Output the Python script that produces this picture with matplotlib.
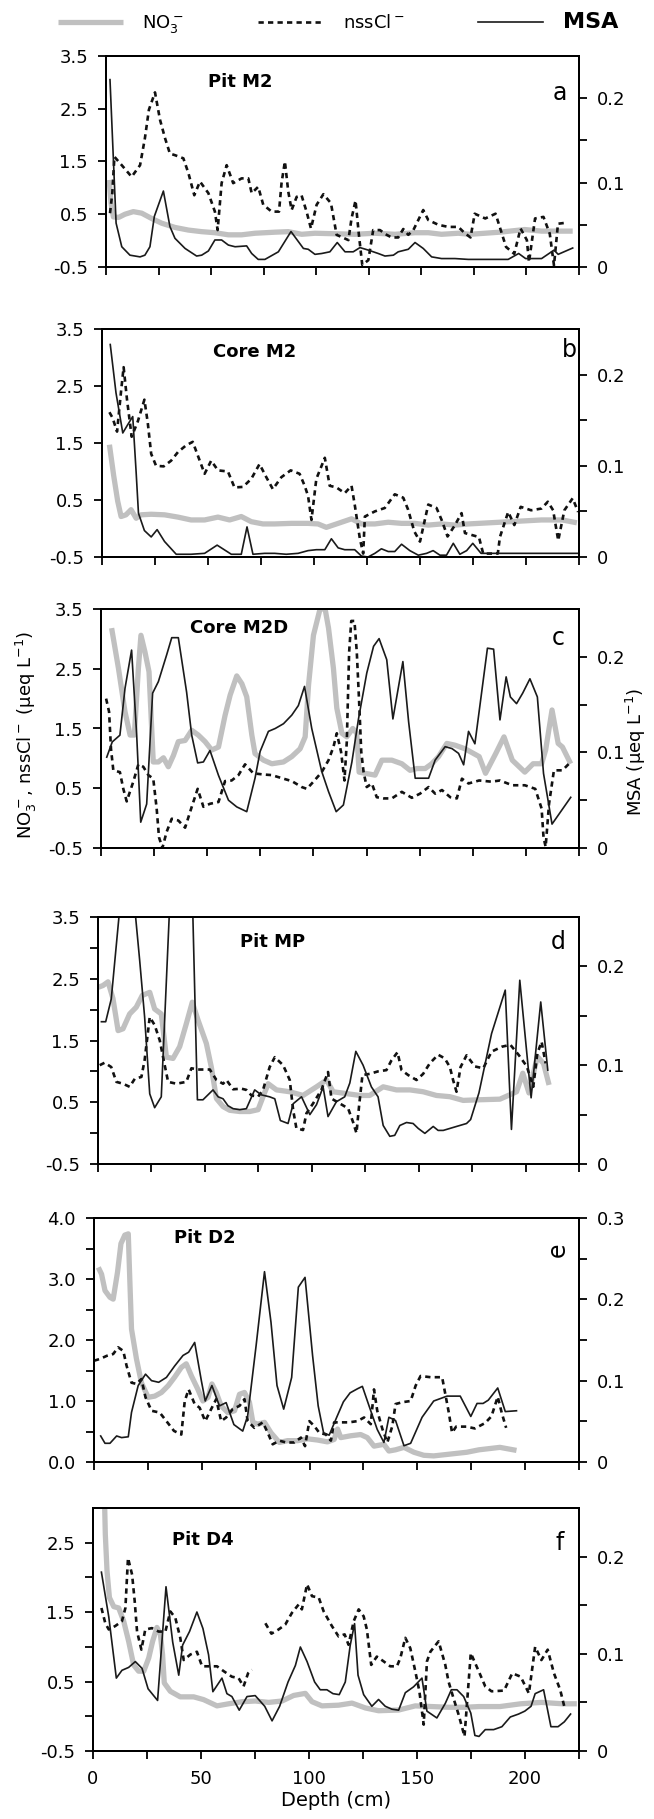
import numpy as np
import matplotlib
matplotlib.use('Agg')
import matplotlib.pyplot as plt

plt.rcParams['font.family'] = ['DejaVu Sans']
plt.rcParams['font.size'] = 13

# ---- panel a : Pit M2 ----
a_no3_d = [1.5, 2.4, 3.5, 6, 9, 13, 17, 21.7, 26.5, 32.8, 39.2, 45.5, 51.8, 58.2, 64.5, 70.9, 80.4, 86.7,
           93.1, 99.4, 108.9, 118.4, 128, 137.5, 147, 153.3, 159.6, 167.6, 173.1, 187.3, 199.2, 207.2, 222]
a_no3 = [1.15, 0.71, 0.45, 0.44, 0.50, 0.55, 0.52, 0.42, 0.33, 0.25, 0.20, 0.17, 0.15, 0.11, 0.11, 0.14, 0.16, 0.17,
         0.12, 0.14, 0.13, 0.12, 0.14, 0.12, 0.15, 0.15, 0.12, 0.14, 0.12, 0.16, 0.21, 0.18, 0.18]
a_cl_d = [1.9, 3, 4, 7.5, 12.2, 16.2, 18.5, 20.4, 23.3, 25.7, 28.1, 30.4, 32.8, 36.8, 39.2, 42, 44.7, 48.7, 51.8,
          53.1, 55, 57.4, 60.5, 64.5, 67.7, 69.3, 72.4, 74.8, 78.8, 82.3, 83.5, 85.1, 86.7, 88.3, 90.7, 93, 95.4,
          97.5, 100.2, 103.4, 107, 109.7, 115.3, 116.8, 118.7, 120.3, 121.9, 124.8, 127.1, 130.3, 133.5, 135.9,
          139, 141.4, 143.8, 146.2, 150.9, 153.3, 158.1, 162.8, 167.6, 170.7, 173.4, 175.4, 180.4, 185.3, 187.3,
          190.3, 194.2, 197.2, 200.2, 201.2, 204.1, 208.1, 211.1, 213.1, 215, 219]
a_cl = [0.52, 0.90, 1.59, 1.43, 1.21, 1.43, 1.94, 2.48, 2.81, 2.29, 1.94, 1.65, 1.62, 1.56, 1.28, 0.86, 1.12, 0.90,
        0.55, 0.20, 1.09, 1.43, 1.09, 1.18, 1.18, 0.90, 1.02, 0.68, 0.55, 0.55, 1.09, 1.50, 0.93, 0.58, 0.83, 0.86,
        0.55, 0.23, 0.68, 0.88, 0.71, 0.11, 0.01, 0.42, 0.76, 0.11, -0.46, -0.37, 0.20, 0.20, 0.11, 0.06, 0.06,
        0.22, 0.11, 0.20, 0.58, 0.39, 0.30, 0.26, 0.26, 0.14, 0.06, 0.51, 0.42, 0.51, 0.26, -0.12, -0.25, 0.23,
        0.01, -0.41, 0.42, 0.45, 0.13, -0.47, 0.32, 0.34]
a_msa_d = [1.9, 4.8, 7.5, 11.4, 16.2, 18.5, 20.9, 23, 27.3, 30.4, 32.8, 37.6, 43.1, 45.5, 48.7, 51.8, 55, 58.2,
           61.4, 66.9, 69.3, 72.4, 75.6, 82, 88, 93.9, 96.2, 99.4, 102.6, 106.5, 110, 113.7, 117.6, 120.8, 124.8,
           129.5, 132.7, 136.7, 139, 143.8, 147, 150.9, 154.9, 159.6, 166, 172.3, 191.3, 196.3, 199.6, 207.2,
           213.1, 215.1, 222]
a_msa = [0.222, 0.052, 0.024, 0.014, 0.012, 0.014, 0.024, 0.060, 0.090, 0.048, 0.034, 0.022, 0.013, 0.014, 0.019,
         0.032, 0.032, 0.026, 0.024, 0.025, 0.016, 0.009, 0.009, 0.018, 0.042, 0.022, 0.021, 0.015, 0.016, 0.018,
         0.029, 0.018, 0.018, 0.023, 0.020, 0.016, 0.013, 0.014, 0.018, 0.021, 0.029, 0.022, 0.012, 0.010, 0.010,
         0.009, 0.009, 0.016, 0.010, 0.010, 0.020, 0.015, 0.0225]

# ---- panel b : Core M2 ----
b_no3_d = [3.5, 5.5, 7.4, 9, 11.3, 13.7, 16.1, 18.4, 23.2, 29.5, 35.8, 42, 48.4, 54.7, 60.2, 65.7, 70.4, 75.9,
           81.4, 89.3, 97.2, 101.9, 105.8, 111.4, 117.7, 122.4, 128.7, 135, 141.3, 147.6, 153.9, 160.2, 166.5,
           172.8, 197.5, 207.3, 217.1, 224]
b_no3 = [1.47, 0.93, 0.48, 0.21, 0.24, 0.33, 0.18, 0.24, 0.25, 0.24, 0.20, 0.15, 0.15, 0.20, 0.15, 0.21, 0.12, 0.08,
         0.08, 0.09, 0.09, 0.08, 0.02, 0.09, 0.17, 0.08, 0.08, 0.11, 0.09, 0.09, 0.06, 0.08, 0.06, 0.08, 0.13, 0.15,
         0.15, 0.10]
b_cl_d = [3.5, 5, 7.1, 9, 10.2, 11.8, 14, 16.9, 20, 21.6, 23.2, 25.5, 29.1, 32.6, 35.8, 39.7, 42.8, 45.2, 48.4,
          51.5, 54.7, 59.4, 62.5, 66.5, 70.4, 74.3, 77.5, 80.6, 84.6, 89, 93.2, 95.6, 97.2, 98.8, 101.1, 105.1,
          107.4, 110.6, 114.5, 117.7, 119.2, 121.6, 123.2, 124, 128.7, 133.4, 138.1, 142.1, 144.4, 147.3, 150,
          153.9, 157.8, 160.2, 163, 166.5, 169.6, 171.2, 177.8, 179.8, 186.7, 187.7, 191.6, 194.5, 197.5, 202.4,
          207.3, 210.3, 212.8, 215.2, 218.1, 222, 224.6]
b_cl = [2.04, 1.94, 1.70, 2.41, 2.83, 2.26, 1.61, 1.88, 2.26, 1.85, 1.31, 1.10, 1.09, 1.19, 1.34, 1.46, 1.52, 1.28,
        0.96, 1.19, 1.02, 1.00, 0.72, 0.73, 0.87, 1.13, 0.90, 0.69, 0.90, 1.02, 0.96, 0.75, 0.57, 0.15, 0.87, 1.24,
        0.75, 0.72, 0.62, 0.75, 0.42, -0.17, -0.44, 0.21, 0.30, 0.36, 0.60, 0.54, 0.33, -0.05, -0.23, 0.42, 0.36,
        0.15, -0.14, 0.06, 0.27, -0.08, -0.15, -0.44, -0.44, -0.15, 0.29, 0.06, 0.38, 0.32, 0.35, 0.47, 0.32,
        -0.21, 0.32, 0.53, 0.29]
b_msa_d = [3.9, 6.6, 9.8, 12.1, 14.5, 16.1, 17.2, 20, 23.2, 26, 29.5, 35, 42, 48.4, 54.3, 61, 65.7, 68.4, 71.2,
           76.7, 81.4, 86.9, 92.5, 97.2, 101.1, 105.1, 108.2, 111.4, 114.5, 119.2, 122.4, 125.5, 128.7, 131.8,
           135, 138.1, 141.3, 145.2, 149.2, 153.1, 156.2, 159.4, 162.5, 165.7, 168.8, 172, 174.9, 178.8, 187.7,
           207.3, 225]
b_msa = [0.233, 0.180, 0.136, 0.145, 0.154, 0.093, 0.048, 0.029, 0.022, 0.030, 0.017, 0.003, 0.003, 0.004, 0.013,
         0.003, 0.003, 0.033, 0.003, 0.004, 0.004, 0.003, 0.004, 0.007, 0.008, 0.008, 0.020, 0.010, 0.008, 0.008,
         0.001, 0.0, 0.004, 0.009, 0.006, 0.006, 0.014, 0.007, 0.002, 0.004, 0.007, 0.002, 0.002, 0.015, 0.003,
         0.007, 0.015, 0.004, 0.004, 0.004, 0.004]

# ---- panel c : Core M2D ----
c_no3_d = [5, 8.2, 11.3, 13.7, 15.7, 17.6, 18.8, 20.7, 22.6, 24.6, 27, 29.4, 31.7, 34.1, 36.4, 39.6, 42.7, 45.8,
           49, 52.1, 55.3, 58.4, 60.8, 63.9, 66.3, 68.6, 71, 72.5, 76.5, 80.4, 85.9, 89.8, 93.7, 96.1, 97.7, 100,
           103.1, 105.5, 107.1, 109.4, 111, 113.4, 115.7, 118.5, 120.4, 121.5, 124.3, 129, 132.2, 136.9, 141.6,
           145.5, 148.7, 152.6, 155.7, 158.9, 162.8, 166.7, 171.4, 178, 181, 185.8, 189.7, 193.6, 199.5, 203.4,
           207.4, 209.3, 212.3, 215.2, 217.2, 221.1]
c_no3 = [3.18, 2.51, 1.78, 1.39, 1.39, 2.51, 3.06, 2.78, 2.45, 0.94, 0.94, 1.01, 0.86, 1.05, 1.28, 1.30, 1.47, 1.39,
         1.28, 1.14, 1.19, 1.72, 2.06, 2.38, 2.25, 2.03, 1.39, 1.08, 0.97, 0.91, 0.94, 1.03, 1.16, 1.36, 2.23, 3.06,
         3.5, 3.5, 3.18, 2.51, 1.84, 1.42, 1.36, 1.50, 1.42, 0.77, 0.75, 0.72, 0.97, 0.97, 0.91, 0.80, 0.83, 0.83,
         0.91, 1.03, 1.25, 1.22, 1.16, 1.03, 0.75, 1.08, 1.36, 0.97, 0.77, 0.91, 0.91, 1.14, 1.81, 1.25, 1.19, 0.91]
c_cl_d = [2.4, 3.8, 4.7, 5.8, 8.9, 10.5, 12.1, 15.2, 17.6, 19.9, 22.3, 24.6, 26.2, 27.3, 28.9, 30.9, 33.3, 36.4,
          39.6, 41.9, 45.5, 48.2, 51.3, 55.3, 58.4, 61.5, 64.7, 67.8, 71.7, 76.5, 80.4, 85.9, 89.8, 94.5, 96.9, 100,
          103.9, 107.1, 109.4, 111, 113, 114.6, 115.7, 116.8, 117.8, 119.3, 120.4, 121.5, 122.5, 123.6, 125.1,
          127.5, 129.8, 133, 136.9, 141.6, 146.3, 150.2, 154.2, 157.3, 160.5, 164.4, 167.5, 169.9, 173, 178,
          183.8, 187.8, 193.6, 199.5, 204.4, 207.4, 208.3, 209.3, 210.9, 213.2, 217.2, 221.1]
c_cl = [2.0, 1.78, 1.16, 0.80, 0.77, 0.49, 0.28, 0.61, 0.90, 0.86, 0.72, 0.66, 0.16, -0.32, -0.5, -0.23, -0.01, -0.04,
        -0.16, 0.10, 0.49, 0.19, 0.24, 0.27, 0.62, 0.63, 0.72, 0.90, 0.75, 0.73, 0.72, 0.66, 0.62, 0.52, 0.49, 0.61,
        0.77, 0.97, 1.19, 1.42, 1.11, 0.63, 1.28, 2.78, 3.3, 3.3, 2.78, 1.95, 1.11, 0.77, 0.52, 0.58, 0.35, 0.33,
        0.33, 0.44, 0.34, 0.41, 0.52, 0.41, 0.47, 0.35, 0.33, 0.66, 0.58, 0.63, 0.61, 0.63, 0.55, 0.55, 0.49, 0.16,
        -0.32, -0.48, 0.24, 0.80, 0.80, 0.94]
c_msa_d = [2.7, 5.3, 8.9, 11.3, 14.4, 16.8, 18.7, 21.5, 24.3, 27, 30.9, 33.3, 36.4, 40.3, 42.7, 45.5, 48.2, 51.3,
           55.3, 60, 63.9, 68.6, 72.5, 74.9, 78.8, 82, 85.9, 89.8, 92.9, 95.8, 99.2, 103.9, 107.1, 110.7, 114.1,
           118.1, 121.2, 125.1, 128.3, 130.9, 134.5, 137.4, 142.1, 144.8, 147.9, 154.2, 157.3, 162, 165.2, 168.3,
           170.7, 173, 176, 181.9, 184.8, 187.8, 190.7, 192.7, 195.6, 198.5, 201.9, 205.4, 208.3, 212.3, 221.1]
c_msa = [0.095, 0.111, 0.118, 0.167, 0.207, 0.118, 0.027, 0.046, 0.162, 0.174, 0.202, 0.220, 0.220, 0.163, 0.118,
         0.089, 0.090, 0.102, 0.076, 0.050, 0.043, 0.038, 0.073, 0.101, 0.122, 0.125, 0.130, 0.139, 0.149, 0.169,
         0.125, 0.080, 0.059, 0.038, 0.045, 0.090, 0.135, 0.183, 0.211, 0.219, 0.197, 0.135, 0.195, 0.132, 0.073,
         0.073, 0.092, 0.106, 0.104, 0.099, 0.087, 0.122, 0.109, 0.209, 0.208, 0.134, 0.179, 0.158, 0.151, 0.162,
         0.177, 0.158, 0.078, 0.025, 0.053]

# ---- panel d : Pit MP ----
d_no3_d = [0, 2.3, 4.7, 7, 9.4, 11.7, 14.8, 17.9, 20.7, 24.2, 26.5, 29.6, 32, 35.1, 38.2, 41.3, 44.1, 46.8, 50.7,
           53, 55.4, 58.5, 61.6, 66.3, 71, 74.9, 77.2, 79.6, 83.5, 89.7, 95.9, 102.2, 106.9, 110, 116.2, 122.5,
           127.1, 133.4, 139.6, 145.9, 152.1, 158.3, 164.6, 170.8, 178.2, 188, 195.8, 198.7, 201.6, 205.5, 208.4, 211]
d_no3 = [2.36, 2.39, 2.45, 2.18, 1.66, 1.69, 1.93, 2.04, 2.23, 2.28, 2.01, 1.93, 1.23, 1.21, 1.40, 1.77, 2.12, 1.83,
         1.45, 1.07, 0.56, 0.43, 0.37, 0.35, 0.35, 0.38, 0.59, 0.80, 0.70, 0.67, 0.61, 0.75, 0.86, 0.67, 0.64, 0.61,
         0.61, 0.75, 0.70, 0.70, 0.67, 0.61, 0.59, 0.53, 0.54, 0.55, 0.67, 0.97, 0.65, 1.24, 1.13, 0.78]
d_cl_d = [0.8, 3.1, 6.2, 8.6, 11.7, 14.8, 17.2, 20.3, 21.8, 24.2, 26.5, 28.9, 31.2, 32.8, 36.7, 41.3, 43.7, 46.8,
          52.3, 55.4, 58.5, 60.1, 63.2, 67.1, 69.4, 71.8, 74.9, 77.2, 80.3, 82.7, 86.6, 89.7, 91.3, 92.8, 95.9,
          97.5, 100.6, 104.5, 107.6, 109.2, 113.1, 117, 119.3, 120.9, 122.1, 123.7, 127.1, 131, 134.9, 137.3,
          140.1, 142, 145.1, 149, 152.1, 155.2, 159.1, 162.2, 164.6, 166.1, 167.7, 169.6, 172.4, 176.3, 180.2,
          184.1, 189, 192.9, 196.7, 200.6, 203.6, 205.5, 207.5, 209.4]
d_cl = [1.10, 1.14, 1.07, 0.83, 0.80, 0.75, 0.88, 0.91, 1.18, 1.88, 1.75, 1.50, 1.10, 0.83, 0.80, 0.83, 1.05, 1.03,
        1.03, 0.86, 0.80, 0.86, 0.71, 0.72, 0.70, 0.61, 0.59, 0.70, 1.07, 1.23, 1.10, 0.86, 0.37, 0.08, 0.05, 0.32,
        0.48, 0.70, 0.99, 0.56, 0.48, 0.40, 0.18, 0.0, 0.43, 0.94, 0.96, 1.00, 1.02, 1.18, 1.31, 1.02, 0.94, 0.86,
        0.96, 1.13, 1.27, 1.21, 1.07, 0.86, 0.67, 1.07, 1.26, 1.08, 1.05, 1.32, 1.40, 1.43, 1.27, 1.08, 0.75, 1.29,
        1.48, 1.13]
d_msa_d = [1.6, 3.6, 6.2, 13.7, 19.5, 21.8, 24.2, 26.5, 29.6, 40.4, 46.5, 49.1, 53.8, 56.2, 58.5, 60.8, 63.2, 66.3,
           69.4, 73.3, 76.4, 80.3, 82.7, 85.3, 88.9, 91.3, 95.2, 99.1, 102.2, 105.3, 107.6, 111.5, 115.4, 117.8,
           120.6, 124, 127.9, 131, 133.4, 136.5, 138.8, 141.2, 144.3, 147.4, 149.8, 152.9, 156.8, 159.1, 161.5,
           164.6, 167.7, 172.4, 174.3, 178.2, 184.1, 190.5, 193.4, 197.3, 202.6, 207.1, 210.4]
d_msa = [0.144, 0.144, 0.167, 0.34, 0.206, 0.149, 0.071, 0.057, 0.068, 0.60, 0.065, 0.065, 0.075, 0.068, 0.066,
         0.059, 0.056, 0.055, 0.056, 0.075, 0.070, 0.068, 0.066, 0.044, 0.041, 0.061, 0.068, 0.050, 0.060, 0.078,
         0.048, 0.063, 0.068, 0.082, 0.114, 0.100, 0.078, 0.068, 0.039, 0.028, 0.029, 0.039, 0.042, 0.041, 0.036,
         0.031, 0.038, 0.034, 0.034, 0.036, 0.038, 0.041, 0.045, 0.072, 0.132, 0.176, 0.035, 0.186, 0.067, 0.164,
         0.095]

# ---- panel e : Pit D2 ----
e_no3_d = [2, 3.5, 5.1, 7.4, 8.9, 10.9, 12.5, 14.3, 15.9, 16.6, 17.4, 19.7, 22, 25.1, 28.2, 31.3, 34.4, 37.4, 40.5,
           42.8, 45.2, 48.2, 50.5, 52.9, 54.7, 56.7, 59, 62.1, 65.2, 67.5, 69.8, 72.1, 73.7, 76, 79.1, 82.1, 86,
           89.8, 94.5, 99.1, 103.7, 108.3, 111.4, 113, 114.5, 119.1, 123.7, 126.8, 129.9, 134.5, 136.8, 139.9,
           143.8, 148.4, 153, 157.6, 165.3, 173, 178.6, 188.3, 196]
e_no3 = [3.19, 3.08, 2.81, 2.70, 2.67, 3.11, 3.58, 3.72, 3.74, 3.0, 2.18, 1.69, 1.30, 1.06, 1.08, 1.14, 1.25, 1.39,
         1.55, 1.61, 1.41, 1.19, 1.0, 1.06, 1.28, 1.14, 0.92, 0.81, 0.84, 1.11, 1.14, 0.98, 0.65, 0.62, 0.65, 0.48,
         0.32, 0.35, 0.35, 0.38, 0.36, 0.33, 0.37, 0.54, 0.40, 0.43, 0.45, 0.40, 0.26, 0.29, 0.18, 0.20, 0.24, 0.16,
         0.11, 0.10, 0.13, 0.16, 0.20, 0.24, 0.19]
e_cl_d = [0, 2.8, 5.9, 8.9, 11.2, 13.6, 15.1, 17.4, 19.7, 22, 23.9, 26.7, 30.5, 33.6, 37.1, 40.5, 42.1, 43.9, 46.7,
          49, 51.6, 54.4, 56.7, 59, 61.3, 64.4, 67.5, 69.8, 71.3, 74.4, 78.3, 80.6, 82.9, 86, 89.1, 92.9, 96, 97.9,
          99.9, 102.2, 104.5, 107.6, 109.9, 111.4, 114.5, 118.3, 122.2, 125.3, 128.4, 129.9, 131.4, 133.8, 136.1,
          138.4, 139.9, 143, 146.9, 149.2, 151.5, 156.1, 161.5, 163, 164.6, 166.1, 168, 172.8, 176.7, 181.5, 184.4,
          187.3, 189.2, 191.2]
e_cl = [1.66, 1.69, 1.74, 1.77, 1.88, 1.82, 1.58, 1.30, 1.28, 1.36, 1.06, 0.84, 0.81, 0.67, 0.51, 0.45, 1.0, 1.19,
        0.95, 0.89, 0.67, 0.87, 1.03, 0.67, 0.73, 0.87, 0.92, 1.03, 0.67, 0.56, 0.65, 0.48, 0.29, 0.35, 0.32, 0.32,
        0.40, 0.26, 0.67, 0.59, 0.48, 0.45, 0.35, 0.65, 0.65, 0.65, 0.67, 0.73, 0.62, 1.19, 0.84, 0.54, 0.32, 0.59,
        0.95, 0.98, 1.0, 1.25, 1.41, 1.39, 1.39, 1.11, 0.81, 0.48, 0.58, 0.58, 0.55, 0.64, 0.75, 1.07, 0.80, 0.56]
e_msa_d = [3.1, 5.1, 7.4, 10.5, 12.8, 15.9, 17.4, 20.5, 23.9, 26.7, 30, 33.6, 37.4, 41.3, 43.9, 46.7, 49.8, 51.6,
           54.7, 58.2, 61.3, 64.9, 69, 71.3, 75.2, 79.1, 82.1, 84.9, 88, 91.7, 94.8, 97.9, 101.4, 104, 106.5, 109.1,
           112.6, 115.7, 118.8, 122.2, 124.5, 127.6, 131.4, 134.5, 136.8, 139.9, 143.8, 146.9, 152.2, 157.6, 163.8,
           169.9, 174.8, 177.7, 180.5, 182.9, 187.3, 190.8, 196]
e_msa = [0.032, 0.023, 0.023, 0.032, 0.030, 0.031, 0.061, 0.094, 0.108, 0.100, 0.098, 0.104, 0.118, 0.131, 0.135,
         0.147, 0.100, 0.075, 0.094, 0.069, 0.073, 0.046, 0.038, 0.057, 0.143, 0.234, 0.172, 0.094, 0.065, 0.104,
         0.215, 0.227, 0.131, 0.069, 0.036, 0.033, 0.055, 0.074, 0.085, 0.090, 0.093, 0.069, 0.040, 0.024, 0.055,
         0.051, 0.020, 0.023, 0.055, 0.075, 0.081, 0.081, 0.056, 0.072, 0.072, 0.076, 0.091, 0.062, 0.063]

# ---- panel f : Pit D4 ----
f_no3_d = [5.2, 5.7, 6.5, 7.6, 9.6, 11.9, 14.2, 16.5, 18.8, 21.1, 23.5, 25.8, 27.6, 29.6, 31.2, 32.2, 33, 35.8,
           40.4, 46.6, 51.2, 57.4, 62.8, 69, 75.1, 81.3, 87.5, 92.9, 98.3, 101.4, 106, 113.7, 119.9, 126.1, 132.2,
           141.5, 149.2, 156.9, 164.6, 172.4, 178.7, 188.4, 198, 207.6, 217.3, 224]
f_no3 = [3.3, 2.62, 2.09, 1.71, 1.58, 1.56, 1.37, 1.08, 0.74, 0.65, 0.65, 0.84, 1.08, 1.28, 1.18, 0.89, 0.48, 0.36,
         0.28, 0.28, 0.24, 0.15, 0.18, 0.21, 0.22, 0.20, 0.22, 0.30, 0.33, 0.21, 0.15, 0.16, 0.19, 0.12, 0.08, 0.09,
         0.15, 0.14, 0.13, 0.13, 0.14, 0.14, 0.18, 0.20, 0.18, 0.18]
f_cl_d = [3.9, 5.7, 7.3, 10.3, 13.4, 15, 16.2, 18.1, 19.3, 20.4, 22.4, 24.2, 27.3, 30.4, 33.5, 35.8, 38.1, 40.4, 42,
          45.1, 48.1, 50.5, 53.5, 57.4, 60.5, 64.3, 67.4, 69.7, 71.8, 73.6, 76.5, 79.8, 82.6, 85.9, 89, 92.1, 95.2,
          96.7, 99.1, 101.4, 104.5, 106.8, 110.6, 113.7, 116.5, 118.3, 120.7, 123, 125.3, 126.8, 128.8, 131.4,
          134.6, 137.6, 140.7, 142.3, 144.6, 146.9, 149.2, 151.1, 153.1, 154.6, 156.2, 160, 163.1, 164.6, 166.9,
          169.3, 172, 174.9, 178.7, 181.6, 184.5, 190.3, 194.1, 198, 201.8, 204.7, 207.6, 210.5, 213.4, 216.3, 218.2]
f_cl = [1.56, 1.34, 1.25, 1.30, 1.37, 1.56, 2.28, 2.04, 1.66, 1.22, 0.96, 1.25, 1.27, 1.22, 1.22, 1.51, 1.42, 1.13,
        0.81, 0.89, 0.93, 0.72, 0.72, 0.72, 0.65, 0.57, 0.55, 0.43, 0.62, 0.67, np.nan, 1.34, 1.19, 1.25, 1.32,
        1.49, 1.61, 1.54, 1.90, 1.73, 1.71, 1.51, 1.30, 1.15, 1.18, 1.03, 1.37, 1.54, 1.44, 1.25, 0.74, 0.86, 0.79,
        0.72, 0.72, 0.84, 1.13, 0.98, 0.65, 0.36, -0.12, 0.79, 0.93, 1.08, 0.74, 0.50, 0.26, 0.02, -0.29, 0.91,
        0.64, 0.43, 0.36, 0.37, 0.62, 0.57, 0.33, 1.0, 0.81, 0.96, 0.62, 0.38, 0.14]
f_msa_d = [3.9, 7.3, 10.8, 13.4, 16.5, 19.6, 22.7, 25.5, 29.9, 33.8, 36.9, 39.7, 41.5, 44.7, 48.1, 50.9, 53.5,
           55.5, 59.7, 62, 64.3, 67.7, 71.3, 75.1, 79.5, 82.9, 86.4, 90.3, 93.7, 96, 99.1, 102.6, 105.2, 108.3,
           111.1, 114, 116.8, 119.1, 121.1, 122.7, 125.3, 129.1, 132.2, 135.3, 138.4, 141.5, 144.6, 148.4, 152.3,
           154.6, 159.2, 163.1, 165.9, 168.5, 171.6, 174.9, 176.8, 178.7, 181.6, 185.5, 189.3, 193.2, 197, 199.9,
           202.8, 204.7, 208.6, 212, 215.3, 218.2, 221.1]
f_msa = [0.184, 0.138, 0.075, 0.083, 0.086, 0.092, 0.085, 0.064, 0.052, 0.169, 0.112, 0.078, 0.109, 0.123, 0.143,
         0.126, 0.099, 0.061, 0.075, 0.059, 0.056, 0.042, 0.056, 0.057, 0.046, 0.031, 0.046, 0.071, 0.088, 0.107,
         0.092, 0.071, 0.063, 0.063, 0.059, 0.058, 0.071, 0.109, 0.131, 0.078, 0.058, 0.046, 0.053, 0.046, 0.043,
         0.042, 0.060, 0.066, 0.075, 0.041, 0.034, 0.049, 0.063, 0.063, 0.056, 0.039, 0.016, 0.015, 0.022, 0.022,
         0.025, 0.035, 0.038, 0.041, 0.046, 0.059, 0.063, 0.025, 0.025, 0.030, 0.038]

names = ['Pit M2', 'Core M2', 'Core M2D', 'Pit MP', 'Pit D2', 'Pit D4']
letters = ['a', 'b', 'c', 'd', 'e', 'f']

panels = [
    (a_no3_d, a_no3, a_cl_d, a_cl, a_msa_d, a_msa),
    (b_no3_d, b_no3, b_cl_d, b_cl, b_msa_d, b_msa),
    (c_no3_d, c_no3, c_cl_d, c_cl, c_msa_d, c_msa),
    (d_no3_d, d_no3, d_cl_d, d_cl, d_msa_d, d_msa),
    (e_no3_d, e_no3, e_cl_d, e_cl, e_msa_d, e_msa),
    (f_no3_d, f_no3, f_cl_d, f_cl, f_msa_d, f_msa),
]

# layout in pixels (left, top, bottom) of each panel, right edge shared
W, H = 654, 1819
right_px = 579
boxes = [(106, 56, 267), (102, 329, 557), (101, 609, 848), (98, 917, 1164), (94, 1218, 1462), (93, 1508, 1751)]
name_pos = [(0.216, 0.877), (0.233, 0.90), (0.186, 0.92), (0.295, 0.90), (0.165, 0.918), (0.163, 0.868)]
letter_pos = [(0.96, 0.825), (0.98, 0.91), (0.956, 0.88), (0.956, 0.90), (0.957, 0.87), (0.96, 0.856)]

fig = plt.figure(figsize=(W / 100, H / 100), dpi=100)

for i, (L, top, bot) in enumerate(boxes):
    no3_d, no3, cl_d, cl, msa_d, msa = panels[i]
    ax = fig.add_axes([L / W, 1 - bot / H, (right_px - L) / W, (bot - top) / H])
    ax2 = ax.twinx()

    l1, = ax.plot(no3_d, no3, color='#c0c0c0', lw=3.8, solid_capstyle='butt')
    l2, = ax.plot(cl_d, cl, color='#111111', lw=1.9, dashes=(2.0, 1.6))
    l3, = ax2.plot(msa_d, msa, color='#1a1a1a', lw=1.2)

    ax.set_xlim(0, 225)
    ax.set_xticks(np.arange(0, 226, 25))
    if i == 5:
        ax.set_xticklabels([str(t) if t % 50 == 0 and t < 225 else '' for t in range(0, 226, 25)], fontsize=14)
        ax.set_xlabel('Depth (cm)', fontsize=14, labelpad=2)
    else:
        ax.set_xticklabels([])

    if i == 4:
        ax.set_ylim(0, 4)
        ax.set_yticks([0, 1, 2, 3, 4])
        ax.set_yticklabels(['0.0', '1.0', '2.0', '3.0', '4.0'])
        ax.set_yticks([0.5, 1.5, 2.5, 3.5], minor=True)
        ax2.set_ylim(0, 0.3)
        rt = np.arange(0, 0.301, 0.05)
    else:
        top_v = 3.0 if i == 5 else 3.5
        ax.set_ylim(-0.5, top_v)
        maj = [v for v in [-0.5, 0.5, 1.5, 2.5, 3.5] if v <= top_v]
        ax.set_yticks(maj)
        ax.set_yticklabels(['%.1f' % v for v in maj])
        if i >= 3:
            ax.set_yticks([v for v in [0, 1, 2, 3] if v < top_v], minor=True)
        ax2.set_ylim(0, 0.25)
        rt = np.arange(0, 0.251, 0.05)[:-1]
    ax2.set_yticks(rt)
    ax2.set_yticklabels(['%g' % round(v, 2) if round(v * 100) % 10 == 0 else '' for v in rt])

    for a in (ax, ax2):
        a.tick_params(which='both', direction='out', length=6, width=1.3, labelsize=13, pad=7)
        for s in a.spines.values():
            s.set_linewidth(1.4)
    ax.tick_params(axis='x', pad=8)

    ax.text(name_pos[i][0], name_pos[i][1], names[i], transform=ax.transAxes, fontsize=13,
            fontweight='bold', ha='left', va='center')
    ax.text(letter_pos[i][0], letter_pos[i][1], letters[i], transform=ax.transAxes, fontsize=17,
            ha='center', va='center', rotation=90 if letters[i] == 'e' else 0)

    if i == 0:
        handles = [l1, l2, l3]

fig.text(26 / W, 1 - 735 / H, 'NO$_3^-$, nssCl$^-$ (μeq L$^{-1}$)', rotation=90, ha='center', va='center',
         fontsize=13)
fig.text(636 / W, 1 - 752 / H, 'MSA (μeq L$^{-1}$)', rotation=90, ha='center', va='center', fontsize=13)

leg = fig.legend(handles, ['NO$_3^-$', 'nssCl$^-$', 'MSA'], loc='center', bbox_to_anchor=(0.517, 0.987),
                 ncol=3, frameon=False, handlelength=3.6, columnspacing=4.1, handletextpad=1.1, fontsize=13)
leg.get_texts()[2].set_fontsize(16)
leg.get_texts()[2].set_fontweight('bold')

fig.savefig('out.png', dpi=100)
